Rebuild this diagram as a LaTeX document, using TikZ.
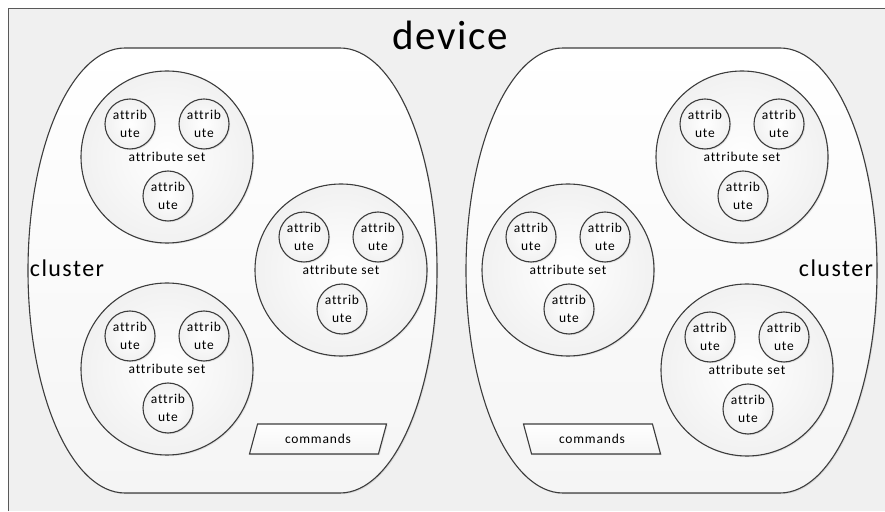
\documentclass[tikz,border=0pt]{standalone}
\usepackage{fontspec}
\setmainfont{Carlito}
\usetikzlibrary{shapes.geometric,shadows,calc}

\definecolor{lineclr}{HTML}{3C3C3C}
\definecolor{pagebg}{HTML}{F0F0F0}
\definecolor{blobfill}{HTML}{F5F5F5}
\definecolor{ringedge}{HTML}{F1F1F1}

\newfontfamily\spacedfont[LetterSpace=6, Ligatures=NoCommon]{Carlito}
\newfontfamily\titlefont[LetterSpace=4, Ligatures=NoCommon]{Carlito}

\tikzset{
  outline/.style={draw=lineclr, line width=1.1pt},
  softshadow/.style={drop shadow={opacity=0.18, shadow xshift=1.2pt, shadow yshift=-1.2pt}},
  setcircle/.style={circle, outline, softshadow, minimum size=172pt, inner sep=0pt,
    inner color=white, outer color=ringedge,
    font=\spacedfont\fontsize{13.5}{16}\selectfont},
  attrnode/.style={circle, outline, softshadow, minimum size=50pt, inner sep=0pt,
    align=center, inner color=white, outer color=ringedge,
    font=\spacedfont\fontsize{13.5}{18}\selectfont},
  cmdbox/.style={trapezium, trapezium stretches=true, outline, softshadow,
    minimum width=138pt, minimum height=30pt, inner sep=0pt,
    top color=white, bottom color=blobfill,
    font=\spacedfont\fontsize{13.5}{16}\selectfont},
  clusterblob/.style={outline, softshadow, top color=white, bottom color=blobfill},
  biglabel/.style={anchor=base, inner sep=0pt, font=\spacedfont\fontsize{24}{27}\selectfont},
}

% one attribute set: the ring, its caption and three attributes
\newcommand\attributeset[3]{%
  \node[setcircle] (#1) at (#2,#3) {attribute set};
  \node[attrnode] (#1-a) at ($(#1)+(-37,33)$) {attrib\\ute};
  \node[attrnode] (#1-b) at ($(#1)+(37,33)$) {attrib\\ute};
  \node[attrnode] (#1-c) at ($(#1)+(1,-39)$) {attrib\\ute};
}

\begin{document}
\begin{tikzpicture}[x=1pt,y=1pt]
  \useasboundingbox (0,0) rectangle (885,511);
  % page frame
  \fill[white] (0,0) rectangle (885,511);
  \fill[pagebg] (8,0) rectangle (885,502);
  \draw[draw=black!65, line width=1pt] (8,0) -- (8,502) -- (885,502);

  \node[anchor=base, inner sep=0pt, font=\titlefont\fontsize{41}{44}\selectfont] (title) at (450,461) {device};

  % left cluster
  \path[clusterblob] (125,463) -- (340,463)
    arc[start angle=90, end angle=-90, x radius=97, y radius=222.5]
    -- (125,18)
    arc[start angle=-90, end angle=-270, x radius=97, y radius=222.5] -- cycle;
  % right cluster
  \path[clusterblob] (563,463) -- (780,463)
    arc[start angle=90, end angle=-90, x radius=97, y radius=222.5]
    -- (563,18)
    arc[start angle=-90, end angle=-270, x radius=97, y radius=222.5] -- cycle;

  \node[biglabel] (clusterL) at (67,234) {cluster};
  \node[biglabel] (clusterR) at (836,234) {cluster};

  \attributeset{setA}{167}{354}
  \attributeset{setB}{341}{241}
  \attributeset{setC}{167}{142}
  \attributeset{setD}{568}{241}
  \attributeset{setE}{742}{354}
  \attributeset{setF}{747}{141}

  \node[cmdbox, trapezium left angle=65, trapezium right angle=115] (cmdL) at (318,72) {commands};
  \node[cmdbox, trapezium left angle=115, trapezium right angle=65] (cmdR) at (592,72) {commands};
\end{tikzpicture}
\end{document}
